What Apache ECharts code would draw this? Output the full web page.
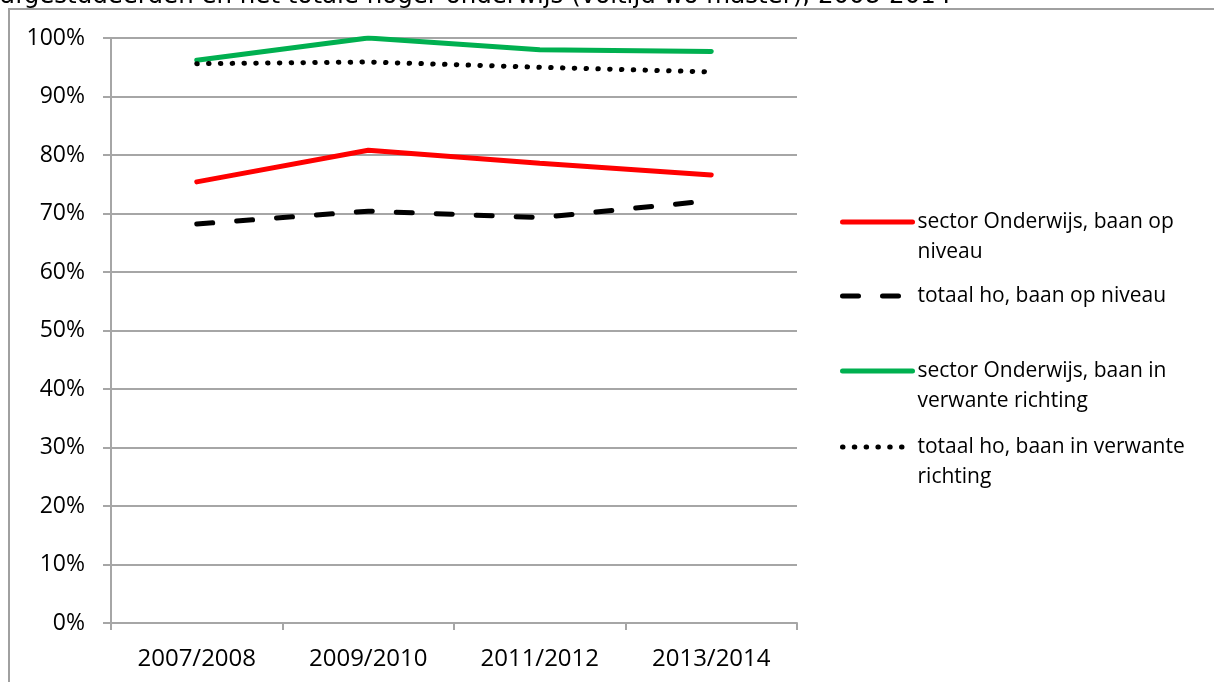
<!DOCTYPE html>
<html>
<head>
<meta charset="utf-8">
<script src="https://cdn.jsdelivr.net/npm/echarts@6/dist/echarts.min.js"></script>
<style>
  html, body { margin: 0; padding: 0; background: #fff; }
  #main { width: 1214px; height: 682px; }
</style>
</head>
<body>
<div id="main"></div>
<script>
const years = ["2007/2008", "2009/2010", "2011/2012", "2013/2014"];
const yTicks = [0, 10, 20, 30, 40, 50, 60, 70, 80, 90, 100];

const onderwijsNiveau = [75.4, 80.8, 78.6, 76.6];
const totaalNiveau = [68.2, 70.4, 69.3, 72.2];
const onderwijsVerwant = [96.2, 100, 98.0, 97.7];
const totaalVerwant = [95.6, 95.9, 95.0, 94.2];

const seriesNames = [
  "sector Onderwijs, baan op niveau",
  "totaal ho, baan op niveau",
  "sector Onderwijs, baan in verwante richting",
  "totaal ho, baan in verwante richting",
];
// leading empty line keeps the legend line level with the first text line
const legendLabels = [
  "\nsector Onderwijs, baan op\nniveau",
  "totaal ho, baan op niveau",
  "\nsector Onderwijs, baan in\nverwante richting",
  "\ntotaal ho, baan in verwante\nrichting",
];

const chart = echarts.init(document.getElementById("main"));

const gridColor = "#a6a6a6";
const labelFont = "Open Sans";

const makeLegend = (i, top) => ({
  data: [seriesNames[i]],
  left: 840,
  top: top,
  orient: "vertical",
  padding: 0,
  itemWidth: 70,
  itemHeight: 12,
  selectedMode: false,
  formatter: () => legendLabels[i],
  itemStyle: { opacity: 0 },
  lineStyle: { width: 5 },
  textStyle: {
    fontFamily: labelFont,
    fontSize: 21,
    lineHeight: 30,
    color: "#000",
  },
});

const option = {
  animation: false,
  backgroundColor: "#fff",
  graphic: [
    {
      type: "rect",
      shape: { x: 9, y: 9, width: 1400, height: 900 },
      style: { fill: "none", stroke: "#a0a0a0", lineWidth: 2 },
    },
    {
      // title cut off by the top edge, as in the source screenshot
      type: "text",
      x: 0,
      y: -15.5,
      style: {
        text: "afgestudeerden en het totale hoger onderwijs (voltijd wo master), 2008-2014",
        fontFamily: "DejaVu Sans",
        fontSize: 24.5,
        fill: "#000",
      },
    },
  ],
  legend: [
    makeLegend(0, 177),
    makeLegend(1, 281),
    makeLegend(2, 326),
    makeLegend(3, 402),
  ],
  grid: { left: 111, right: 417, top: 38, bottom: 59 },
  xAxis: {
    type: "category",
    data: years,
    boundaryGap: true,
    axisLine: { show: true, lineStyle: { color: gridColor, width: 2 } },
    axisTick: { show: true, length: 7, lineStyle: { color: gridColor, width: 2 } },
    axisLabel: {
      margin: 24,
      fontFamily: labelFont,
      fontSize: 24,
      color: "#000",
    },
  },
  yAxis: {
    type: "value",
    min: yTicks[0],
    max: yTicks[yTicks.length - 1],
    interval: 10,
    axisLine: { show: true, lineStyle: { color: gridColor, width: 2 } },
    axisTick: { show: true, length: 8, lineStyle: { color: gridColor, width: 2 } },
    splitLine: { show: true, lineStyle: { color: gridColor, width: 2 } },
    axisLabel: {
      margin: 26,
      fontFamily: labelFont,
      fontSize: 23,
      color: "#000",
      formatter: "{value}%",
    },
  },
  series: [
    {
      name: seriesNames[0],
      type: "line",
      data: onderwijsNiveau,
      symbol: "none",
      lineStyle: { color: "#ff0000", width: 5, cap: "round" },
      itemStyle: { color: "#ff0000" },
    },
    {
      name: seriesNames[1],
      type: "line",
      data: totaalNiveau,
      symbol: "none",
      lineStyle: { color: "#000", width: 5, type: [16, 24], cap: "round" },
      itemStyle: { color: "#000" },
    },
    {
      name: seriesNames[2],
      type: "line",
      data: onderwijsVerwant,
      symbol: "none",
      lineStyle: { color: "#00b050", width: 5, cap: "round" },
      itemStyle: { color: "#00b050" },
    },
    {
      name: seriesNames[3],
      type: "line",
      data: totaalVerwant,
      symbol: "none",
      lineStyle: { color: "#000", width: 5, type: [0.5, 11.3], cap: "round" },
      itemStyle: { color: "#000" },
    },
  ],
};

chart.setOption(option);
</script>
</body>
</html>
